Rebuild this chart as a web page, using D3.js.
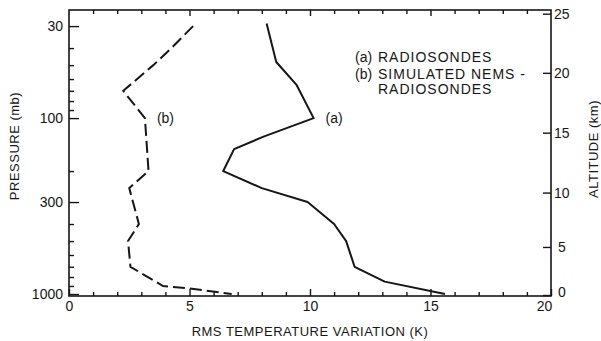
<!DOCTYPE html>
<html>
<head>
<meta charset="utf-8">
<script src="https://cdn.jsdelivr.net/npm/d3@7"></script>
<style>
  body { margin: 0; background: #fff; }
  svg { display: block; font-family: "Liberation Sans", Arial, sans-serif; }
</style>
</head>
<body>
<svg id="chart" width="601" height="341"></svg>
<script>
// RMS temperature variation (K) against pressure level (mb)
const radiosondePressure = [29, 48, 65, 100, 127, 150, 200, 250, 300, 400, 500, 700, 850, 1000];
const radiosondeRms      = [8.2, 8.6, 9.45, 10.15, 8.1, 6.85, 6.4, 8.0, 9.9, 11.0, 11.5, 11.85, 13.1, 15.6];

const nemsPressure = [30, 40, 50, 70, 100, 200, 250, 400, 500, 700, 900, 930, 1000];
const nemsRms      = [5.15, 4.25, 3.5, 2.25, 3.15, 3.3, 2.5, 2.9, 2.45, 2.55, 3.9, 5.0, 6.75];

// Axis ticks
const tempTicks      = [0, 5, 10, 15, 20];
const tempMinorTicks = [1, 2, 3, 4, 6, 7, 8, 9, 11, 12, 13, 14, 16, 17, 18, 19];
const pressureTicks      = [30, 100, 300, 1000];
const pressureMinorTicks = [40, 50, 60, 70, 80, 90, 200, 400, 500, 600, 700, 800, 900];
// Altitude (km) and the standard-atmosphere pressure (mb) at that height
const altitudeTicks    = [0, 5, 10, 15, 20, 25];
const altitudePressure = [1013, 540, 265, 121, 55.3, 25.5];

const legendLines = [
  { key: "(a)", text: "RADIOSONDES" },
  { key: "(b)", text: "SIMULATED NEMS -" },
  { key: "",    text: "RADIOSONDES" }
];

const ink = "#161616";
const svg = d3.select("#chart");

const plotLeft = 69, plotRight = 551, plotTop = 10, plotBottom = 296;
const x = d3.scaleLinear().domain([0, 20]).range([plotLeft, plotRight]);
const y = d3.scaleLog().domain([24.3, 1026]).range([plotTop, plotBottom]);
const alt = d3.scaleLinear().domain(altitudeTicks).range(altitudePressure.map(p => y(p)));

function styleAxis(g) {
  g.select(".domain").remove();
  g.attr("font-family", null).attr("font-size", null);
  g.selectAll("line").attr("stroke", ink).attr("stroke-width", 1.4);
  g.selectAll("text").attr("fill", ink).style("font-size", "14px");
}

// frame
svg.append("rect")
  .attr("x", plotLeft).attr("y", plotTop)
  .attr("width", plotRight - plotLeft).attr("height", plotBottom - plotTop)
  .attr("fill", "none").attr("stroke", ink).attr("stroke-width", 1.6);

// left pressure axis
svg.append("g").attr("transform", `translate(${plotLeft},0)`)
  .call(d3.axisLeft(y).tickValues(pressureTicks).tickFormat(d3.format("d"))
    .tickSize(-10).tickSizeOuter(0).tickPadding(6))
  .call(styleAxis);
svg.append("g").attr("transform", `translate(${plotLeft},0)`)
  .call(d3.axisLeft(y).tickValues(pressureMinorTicks).tickFormat("")
    .tickSize(-5).tickSizeOuter(0))
  .call(styleAxis);

// bottom temperature axis
const bottomAxis = svg.append("g").attr("transform", `translate(0,${plotBottom})`)
  .call(d3.axisBottom(x).tickValues(tempTicks).tickFormat(d3.format("d"))
    .tickSize(-7).tickSizeOuter(0).tickPadding(5))
  .call(styleAxis);
// the last label sits tucked inside the corner
bottomAxis.selectAll(".tick text").filter(d => d === 20).attr("dx", -7);
svg.append("g").attr("transform", `translate(0,${plotBottom})`)
  .call(d3.axisBottom(x).tickValues(tempMinorTicks).tickFormat("")
    .tickSize(-4).tickSizeOuter(0))
  .call(styleAxis);

// top edge ticks
svg.append("g").attr("transform", `translate(0,${plotTop})`)
  .call(d3.axisTop(x).tickValues(tempTicks.slice(1, -1)).tickFormat("")
    .tickSize(-6).tickSizeOuter(0))
  .call(styleAxis);
svg.append("g").attr("transform", `translate(0,${plotTop})`)
  .call(d3.axisTop(x).tickValues(tempMinorTicks).tickFormat("")
    .tickSize(-4).tickSizeOuter(0))
  .call(styleAxis);

// right altitude axis
const rightAxis = svg.append("g").attr("transform", `translate(${plotRight},0)`)
  .call(d3.axisRight(alt).tickValues(altitudeTicks).tickFormat(d3.format("d"))
    .tickSize(-8).tickSizeOuter(0).tickPadding(3))
  .call(styleAxis);
rightAxis.selectAll(".tick text").filter(d => d === 0).attr("dx", 4).attr("y", -3);
rightAxis.selectAll(".tick text").filter(d => d === 5).attr("dx", 4);

// profiles
const line = d3.line().x(d => x(d[1])).y(d => y(d[0]));

svg.append("path")
  .datum(d3.zip(radiosondePressure, radiosondeRms))
  .attr("d", line)
  .attr("fill", "none").attr("stroke", ink)
  .attr("stroke-width", 2).attr("stroke-linejoin", "round");

svg.append("path")
  .datum(d3.zip(nemsPressure, nemsRms))
  .attr("d", line)
  .attr("fill", "none").attr("stroke", ink)
  .attr("stroke-width", 2).attr("stroke-dasharray", "12,5");

// curve tags
svg.append("text").attr("x", x(10.15) + 12).attr("y", y(100) + 5)
  .attr("fill", ink).style("font-size", "14px").text("(a)");
svg.append("text").attr("x", x(3.15) + 12).attr("y", y(100) + 5)
  .attr("fill", ink).style("font-size", "14px").text("(b)");

// legend
const legend = svg.append("g").attr("fill", ink).style("font-size", "14px");
const rowY = (d, i) => 62 + i * 17 + (i === 2 ? -2 : 0);
legend.selectAll("text.key").data(legendLines).join("text")
  .attr("class", "key")
  .attr("x", 355).attr("y", rowY)
  .text(d => d.key);
legend.selectAll("text.label").data(legendLines).join("text")
  .attr("class", "label")
  .attr("x", 378).attr("y", rowY)
  .attr("letter-spacing", "1px")
  .text(d => d.text);

// axis titles
svg.append("text")
  .attr("transform", `translate(19,146) rotate(-90)`)
  .attr("text-anchor", "middle").attr("fill", ink)
  .style("font-size", "13px").attr("letter-spacing", "0.5px")
  .text("PRESSURE (mb)");

svg.append("text")
  .attr("transform", `translate(598,149) rotate(-90)`)
  .attr("text-anchor", "middle").attr("fill", ink)
  .style("font-size", "13px").attr("letter-spacing", "0.5px")
  .text("ALTITUDE (km)");

svg.append("text")
  .attr("x", x(10)).attr("y", 336)
  .attr("text-anchor", "middle").attr("fill", ink)
  .style("font-size", "13px").attr("letter-spacing", "0.5px")
  .text("RMS TEMPERATURE VARIATION (K)");
</script>
</body>
</html>
